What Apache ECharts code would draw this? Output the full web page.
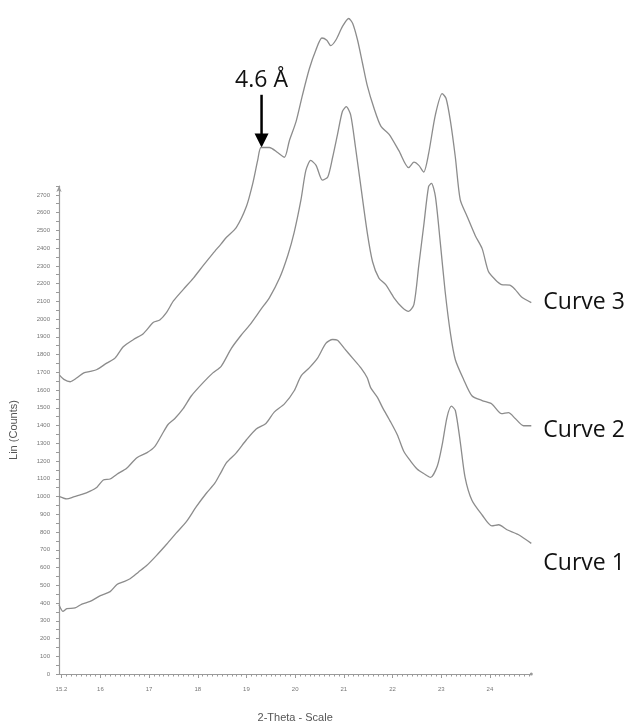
<!DOCTYPE html>
<html>
<head>
<meta charset="utf-8">
<script src="https://cdn.jsdelivr.net/npm/echarts@6/dist/echarts.min.js"></script>
<style>
  html, body { margin: 0; padding: 0; background: #fff; }
  #chart { width: 633px; height: 728px; }
</style>
</head>
<body>
<div id="chart"></div>
<script>
// X-ray diffraction patterns, 2-theta (degrees) vs. intensity (counts)
const curve1 = [
  [15.15, 390], [15.23, 353], [15.31, 368], [15.48, 372], [15.62, 394], [15.79, 409],
  [16.00, 442], [16.20, 464], [16.34, 504], [16.47, 519], [16.61, 537], [16.78, 574],
  [16.95, 611], [17.15, 667], [17.36, 731], [17.56, 795], [17.77, 860], [17.97, 943],
  [18.18, 1020], [18.35, 1075], [18.48, 1138], [18.59, 1191], [18.79, 1246], [19.00, 1320],
  [19.20, 1381], [19.40, 1412], [19.57, 1476], [19.78, 1522], [19.98, 1596], [20.12, 1679],
  [20.29, 1725], [20.46, 1780], [20.63, 1863], [20.77, 1885], [20.87, 1881], [21.01, 1835],
  [21.18, 1780], [21.35, 1725], [21.48, 1669], [21.55, 1614], [21.69, 1559], [21.79, 1504],
  [21.96, 1421], [22.10, 1347], [22.23, 1255], [22.37, 1200], [22.51, 1154], [22.64, 1130],
  [22.78, 1108], [22.92, 1172], [23.02, 1292], [23.12, 1448], [23.21, 1509], [23.29, 1485],
  [23.39, 1310], [23.49, 1108], [23.63, 979], [23.84, 896], [24.04, 835], [24.18, 841],
  [24.35, 813], [24.58, 786], [24.85, 736]
];

const curve2 = [
  [15.15, 1001], [15.31, 987], [15.45, 998], [15.62, 1012], [15.79, 1031], [15.93, 1053],
  [16.06, 1093], [16.20, 1099], [16.34, 1126], [16.54, 1160], [16.75, 1219], [16.95, 1246],
  [17.12, 1283], [17.26, 1347], [17.39, 1406], [17.53, 1440], [17.70, 1495], [17.87, 1568],
  [18.11, 1642], [18.31, 1697], [18.48, 1734], [18.69, 1835], [18.89, 1909], [19.06, 1964],
  [19.30, 2056], [19.47, 2120], [19.68, 2231], [19.85, 2360], [19.98, 2489], [20.12, 2673],
  [20.22, 2838], [20.32, 2894], [20.43, 2866], [20.56, 2783], [20.67, 2801], [20.77, 2912],
  [20.87, 3041], [20.97, 3170], [21.05, 3197], [21.14, 3151], [21.24, 2967], [21.35, 2746],
  [21.48, 2489], [21.59, 2323], [21.72, 2231], [21.86, 2194], [22.03, 2120], [22.20, 2065],
  [22.33, 2043], [22.44, 2083], [22.54, 2304], [22.64, 2525], [22.74, 2746], [22.80, 2765],
  [22.88, 2691], [22.98, 2434], [23.08, 2157], [23.19, 1918], [23.29, 1771], [23.46, 1660],
  [23.63, 1568], [23.84, 1541], [24.04, 1522], [24.24, 1467], [24.38, 1473], [24.52, 1440],
  [24.69, 1399], [24.85, 1399]
];

const curve3 = [
  [15.16, 1684], [15.25, 1660], [15.38, 1647], [15.52, 1669], [15.66, 1697], [15.79, 1705],
  [15.93, 1716], [16.13, 1752], [16.30, 1780], [16.47, 1844], [16.68, 1885], [16.88, 1918],
  [17.09, 1982], [17.22, 1995], [17.36, 2038], [17.50, 2102], [17.70, 2166], [17.91, 2231],
  [18.11, 2301], [18.31, 2369], [18.48, 2424], [18.59, 2461], [18.79, 2516], [19.00, 2636],
  [19.13, 2765], [19.23, 2894], [19.30, 2967], [19.47, 2967], [19.64, 2939], [19.78, 2912],
  [19.88, 3004], [20.02, 3114], [20.15, 3262], [20.29, 3409], [20.43, 3519], [20.55, 3584],
  [20.65, 3571], [20.73, 3541], [20.84, 3574], [20.97, 3648], [21.10, 3694], [21.18, 3667],
  [21.28, 3574], [21.38, 3446], [21.48, 3317], [21.62, 3188], [21.76, 3087], [21.93, 3041],
  [22.13, 2949], [22.33, 2853], [22.44, 2884], [22.54, 2866], [22.64, 2829], [22.74, 2931],
  [22.88, 3151], [23.02, 3271], [23.10, 3243], [23.19, 3114], [23.29, 2912], [23.39, 2673],
  [23.53, 2580], [23.70, 2470], [23.84, 2397], [23.97, 2268], [24.11, 2222], [24.24, 2194],
  [24.41, 2191], [24.52, 2166], [24.65, 2124], [24.85, 2093]
];

const curveNames = ['Curve 1', 'Curve 2', 'Curve 3'];

// Axis ranges and labelled ticks
const xMin = 15.15, xMax = 24.85;
const xTickLabels = [15.2, 16, 17, 18, 19, 20, 21, 22, 23, 24];
const yMax = 2750, yLabelMax = 2700;

// d-spacing annotation on curve 3: x position, arrow top and arrow tip (counts)
const noteText = ['4.6 Å'];
const noteX = [19.31];
const noteTop = [3264];
const noteTip = [2967];

// Small ticks every 0.1 degree along the 2-theta axis
const xMinorTicks = [];
for (let i = 152; i <= 248; i++) xMinorTicks.push(i / 10);

const lineColor = '#8c8c8c';
const axisColor = '#9a9a9a';
const labelFont = { fontFamily: 'Open Sans', fontSize: 23, color: '#111' };

const endLabelOffsets = { 'Curve 1': [2, 20], 'Curve 2': [2, 5], 'Curve 3': [2, 0] };

function curveSeries(name, data) {
  return {
    name: name,
    type: 'line',
    data: data,
    xAxisIndex: 0,
    yAxisIndex: 0,
    showSymbol: false,
    symbol: 'none',
    smooth: 0.25,
    clip: false,
    lineStyle: { color: lineColor, width: 1.3 },
    endLabel: Object.assign({
      show: true,
      formatter: '{a}',
      distance: 10,
      offset: endLabelOffsets[name]
    }, labelFont),
    emphasis: { disabled: true }
  };
}

// Downward arrow with a caption above it, placed in data coordinates
function renderNote(params, api) {
  const top = api.coord([api.value(0), api.value(1)]);
  const tip = api.coord([api.value(0), api.value(2)]);
  const headH = 14, headW = 7;
  return {
    type: 'group',
    children: [
      {
        type: 'line',
        shape: { x1: top[0], y1: top[1], x2: tip[0], y2: tip[1] - headH + 2 },
        style: { stroke: '#000', lineWidth: 2.5 }
      },
      {
        type: 'polygon',
        shape: { points: [[tip[0] - headW, tip[1] - headH], [tip[0] + headW, tip[1] - headH], [tip[0], tip[1]]] },
        style: { fill: '#000' }
      },
      {
        type: 'text',
        x: top[0],
        y: top[1] - 3,
        style: {
          text: noteText[params.dataIndex],
          fontFamily: labelFont.fontFamily,
          fontSize: 23,
          fill: '#111',
          align: 'center',
          verticalAlign: 'bottom'
        }
      }
    ]
  };
}

const chart = echarts.init(document.getElementById('chart'), null, { renderer: 'canvas' });

chart.setOption({
  animation: false,
  backgroundColor: '#fff',
  grid: { left: 57, top: 186, width: 474.3, height: 498, containLabel: false },
  xAxis: [
    {
      type: 'value',
      min: xMin,
      max: xMax,
      name: '2-Theta - Scale',
      nameLocation: 'middle',
      nameGap: 38,
      nameTextStyle: { fontFamily: 'Liberation Sans', fontSize: 11, color: '#555' },
      axisLine: {
        show: true,
        lineStyle: { color: axisColor, width: 1.2 },
        symbol: ['none', 'circle'],
        symbolSize: [3, 3]
      },
      axisTick: { show: true, length: 4, customValues: xTickLabels, lineStyle: { color: axisColor } },
      axisLabel: {
        show: true,
        customValues: xTickLabels,
        margin: 12,
        fontFamily: 'Liberation Sans',
        fontSize: 6,
        color: '#777',
        formatter: function (v) { return String(v); }
      },
      splitLine: { show: false }
    },
    {
      type: 'value',
      min: xMin,
      max: xMax,
      position: 'bottom',
      axisLine: { show: false },
      axisTick: { show: true, length: 2.5, customValues: xMinorTicks, lineStyle: { color: axisColor } },
      axisLabel: { show: false },
      splitLine: { show: false }
    }
  ],
  yAxis: {
    type: 'value',
    min: 0,
    max: yMax,
    interval: 50,
    name: 'Lin (Counts)',
    nameLocation: 'middle',
    nameGap: 40,
    nameRotate: 90,
    nameTextStyle: { fontFamily: 'Liberation Sans', fontSize: 11, color: '#555' },
    axisLine: {
      show: true,
      lineStyle: { color: axisColor, width: 1.2 },
      symbol: ['none', 'arrow'],
      symbolSize: [4, 6]
    },
    axisTick: { show: true, length: 3, lineStyle: { color: axisColor } },
    axisLabel: {
      margin: 9,
      fontFamily: 'Liberation Sans',
      fontSize: 6,
      color: '#777',
      formatter: function (v) {
        return (v % 100 === 0 && v <= yLabelMax) ? String(v) : '';
      }
    },
    splitLine: { show: false }
  },
  series: [
    curveSeries(curveNames[0], curve1),
    curveSeries(curveNames[1], curve2),
    curveSeries(curveNames[2], curve3),
    {
      name: 'note',
      type: 'custom',
      xAxisIndex: 0,
      yAxisIndex: 0,
      clip: false,
      silent: true,
      renderItem: renderNote,
      data: noteX.map(function (x, i) { return [x, noteTop[i], noteTip[i]]; })
    }
  ]
});
</script>
</body>
</html>
